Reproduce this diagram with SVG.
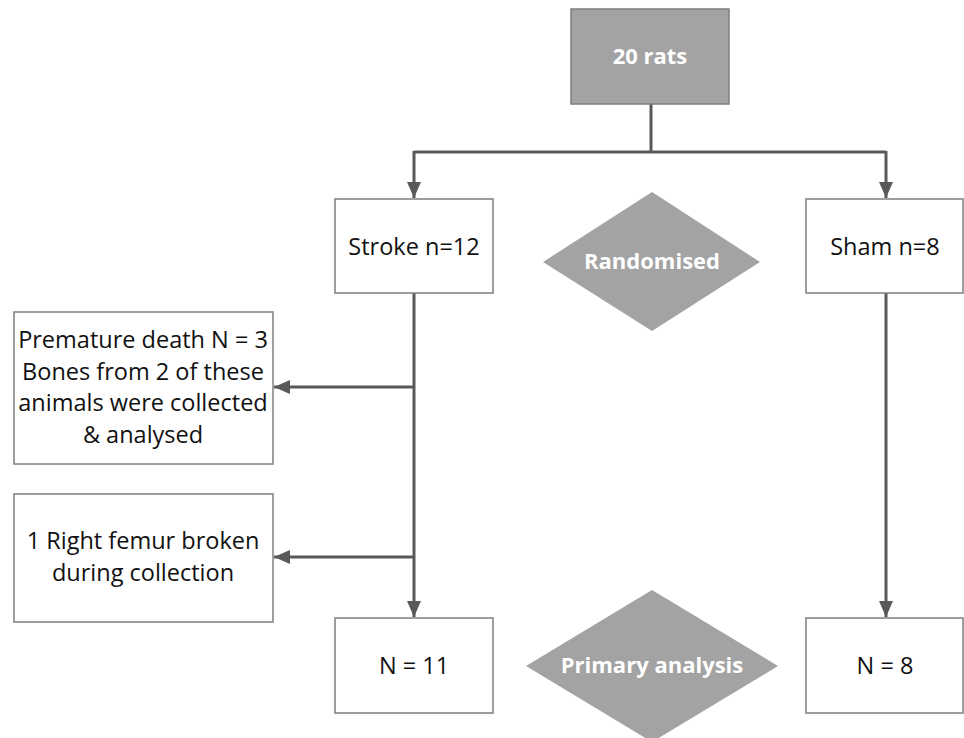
<svg xmlns="http://www.w3.org/2000/svg" width="964" height="738" viewBox="0 0 964 738">
<style>
.box{fill:#ffffff;stroke:#7f7f7f;stroke-width:1.5}
.dark{fill:#a3a3a3;stroke:#7f7f7f;stroke-width:1.5}
.dia{fill:#a3a3a3;stroke:none}
.t{font-family:"Open Sans","Liberation Sans",sans-serif;font-size:23.5px;fill:#111111;text-anchor:middle}
.w{font-family:"Open Sans","Liberation Sans",sans-serif;font-size:22px;font-weight:bold;fill:#ffffff;text-anchor:middle}
.ln{fill:none;stroke:#595959;stroke-width:3}
</style>
<defs>
<marker id="ah" markerWidth="16" markerHeight="14" refX="16" refY="7" orient="auto" markerUnits="userSpaceOnUse">
<path d="M0,0 L16,7 L0,14 Z" fill="#595959"/>
</marker>
</defs>
<rect width="964" height="738" fill="#ffffff"/>
<g id="connectors">
<line class="ln" x1="651" y1="104" x2="651" y2="152"/>
<polyline class="ln" points="414,152 886,152"/>
<line class="ln" x1="414" y1="151" x2="414" y2="198" marker-end="url(#ah)"/>
<line class="ln" x1="886" y1="151" x2="886" y2="198" marker-end="url(#ah)"/>
<line class="ln" x1="414" y1="293" x2="414" y2="617" marker-end="url(#ah)"/>
<line class="ln" x1="886" y1="293" x2="886" y2="617" marker-end="url(#ah)"/>
<line class="ln" x1="414" y1="387" x2="274" y2="387" marker-end="url(#ah)"/>
<line class="ln" x1="414" y1="557" x2="274" y2="557" marker-end="url(#ah)"/>
</g>
<g id="rats">
<rect class="dark" x="571" y="9" width="158" height="95"/>
<text class="w" x="650" y="64">20 rats</text>
</g>
<g id="stroke">
<rect class="box" x="335" y="199" width="158" height="94"/>
<text class="t" x="414" y="255">Stroke n=12</text>
</g>
<g id="randomised">
<polygon class="dia" points="652,192 760,262 652,331 543,262"/>
<text class="w" x="652" y="269">Randomised</text>
</g>
<g id="sham">
<rect class="box" x="806" y="199" width="157" height="94"/>
<text class="t" x="885" y="255">Sham n=8</text>
</g>
<g id="premature">
<rect class="box" x="14" y="312" width="259" height="152"/>
<text class="t" x="143" y="348">Premature death N = 3</text>
<text class="t" x="143" y="380">Bones from 2 of these</text>
<text class="t" x="143" y="411">animals were collected</text>
<text class="t" x="143" y="443">&amp; analysed</text>
</g>
<g id="femur">
<rect class="box" x="14" y="494" width="259" height="128"/>
<text class="t" x="143" y="549">1 Right femur broken</text>
<text class="t" x="143" y="581">during collection</text>
</g>
<g id="n11">
<rect class="box" x="335" y="618" width="158" height="95"/>
<text class="t" x="414" y="674">N = 11</text>
</g>
<g id="primary">
<polygon class="dia" points="652,590 778,666 652,742 526,666"/>
<text class="w" x="652" y="673">Primary analysis</text>
</g>
<g id="n8">
<rect class="box" x="806" y="618" width="157" height="95"/>
<text class="t" x="885" y="674">N = 8</text>
</g>
</svg>
